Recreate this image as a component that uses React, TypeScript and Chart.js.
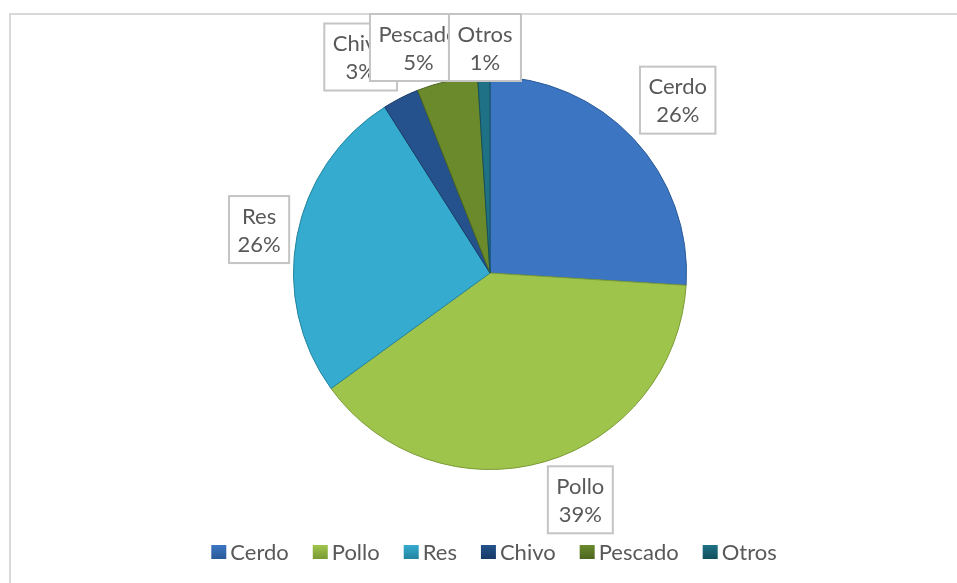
import React, { useEffect, useRef } from "react";
import { Chart, registerables } from "chart.js";

Chart.register(...registerables);

const categories = ["Cerdo", "Pollo", "Res", "Chivo", "Pescado", "Otros"];
const shares = [26, 39, 26, 3, 5, 1];
const sliceColors = ["#3c76c2", "#9fc44c", "#35abcf", "#25528c", "#6a8a2c", "#1f7286"];
const edgeColors = ["#2a5a98", "#7a9a34", "#23849f", "#173a66", "#4d6620", "#134e5c"];

const FONT_FAMILY = 'Lato, "Open Sans", "DejaVu Sans", sans-serif';
const FONT = `22px ${FONT_FAMILY}`;
const TEXT_COLOR = "#595959";

// fine adjustments of data-label boxes relative to their automatic position
const labelNudge = [
  { dx: 1.5, dy: 2 },
  { dx: 23, dy: -5 },
  { dx: 2, dy: 1 },
  { dx: -18.5, dy: 1.5 },
  { dx: -19, dy: 0 },
  { dx: 2.5, dy: 0 },
];

const overlayPlugin = {
  id: "excelOverlay",
  afterDraw(chart: any) {
    const ctx: CanvasRenderingContext2D = chart.ctx;
    const total = shares.reduce((a, b) => a + b, 0);
    ctx.save();

    // outer frame
    ctx.strokeStyle = "#d9d9d9";
    ctx.lineWidth = 2;
    ctx.strokeRect(10, 14, 2000, 2000);

    // data labels
    ctx.font = FONT;
    const meta = chart.getDatasetMeta(0);
    const boxH = 67;
    const topLimit = 14;
    meta.data.forEach((arc: any, i: number) => {
      const p = arc.getProps(["x", "y", "startAngle", "endAngle", "outerRadius"], true);
      const mid = (p.startAngle + p.endAngle) / 2;
      const pct = Math.round((shares[i] / total) * 100) + "%";
      const lines = [categories[i], pct];
      const w = Math.max(...lines.map((t) => ctx.measureText(t).width)) + 17;
      const c = Math.cos(mid);
      const s = Math.sin(mid);
      const ex = Math.abs(c) > 1e-6 ? w / 2 / Math.abs(c) : Infinity;
      const ey = Math.abs(s) > 1e-6 ? boxH / 2 / Math.abs(s) : Infinity;
      const d = p.outerRadius + 10 + Math.min(ex, ey);
      let cx = p.x + c * d + labelNudge[i].dx;
      let cy = p.y + s * d + labelNudge[i].dy;
      if (cy - boxH / 2 < topLimit) cy = topLimit + boxH / 2;
      const bx = cx - w / 2;
      const by = cy - boxH / 2;
      ctx.fillStyle = "#ffffff";
      ctx.fillRect(bx, by, w, boxH);
      ctx.strokeStyle = "#c4c4c4";
      ctx.lineWidth = 2;
      ctx.strokeRect(bx, by, w, boxH);
      ctx.fillStyle = TEXT_COLOR;
      ctx.textAlign = "center";
      ctx.textBaseline = "middle";
      ctx.fillText(lines[0], cx, cy - 13);
      ctx.fillText(lines[1], cx, cy + 15);
    });

    // legend
    ctx.font = FONT;
    const marker = 15;
    const gap = 4;
    const spacing = 24;
    const widths = categories.map((t) => ctx.measureText(t).width);
    const totalW =
      widths.reduce((a, b) => a + b + marker + gap, 0) + spacing * (categories.length - 1);
    let x = 494 - totalW / 2;
    const ly = 552;
    categories.forEach((t, i) => {
      const g = ctx.createLinearGradient(0, ly - 7, 0, ly + 7);
      g.addColorStop(0, sliceColors[i]);
      g.addColorStop(1, edgeColors[i]);
      ctx.fillStyle = g;
      ctx.fillRect(x, ly - 7, marker, 14);
      ctx.fillStyle = TEXT_COLOR;
      ctx.textAlign = "left";
      ctx.textBaseline = "middle";
      ctx.fillText(t, x + marker + gap, ly + 1);
      x += marker + gap + widths[i] + spacing;
    });
    ctx.restore();
  },
};

export default function App() {
  const canvasRef = useRef<HTMLCanvasElement | null>(null);

  useEffect(() => {
    if (!canvasRef.current) return;
    const chart = new Chart(canvasRef.current, {
      type: "pie",
      data: {
        labels: categories,
        datasets: [
          {
            data: shares,
            backgroundColor: sliceColors,
            borderColor: edgeColors,
            borderWidth: 1,
          },
        ],
      },
      options: {
        animation: false,
        responsive: true,
        maintainAspectRatio: false,
        layout: { padding: { left: 23, right: 0, top: 76, bottom: 113 } },
        plugins: {
          legend: { display: false },
          tooltip: { enabled: false },
          title: { display: false },
        },
      },
      plugins: [overlayPlugin],
    });
    return () => chart.destroy();
  }, []);

  return (
    <div
      style={{
        position: "fixed",
        left: 0,
        top: 0,
        width: 957,
        height: 583,
        background: "#ffffff",
      }}
    >
      <canvas ref={canvasRef} />
    </div>
  );
}
